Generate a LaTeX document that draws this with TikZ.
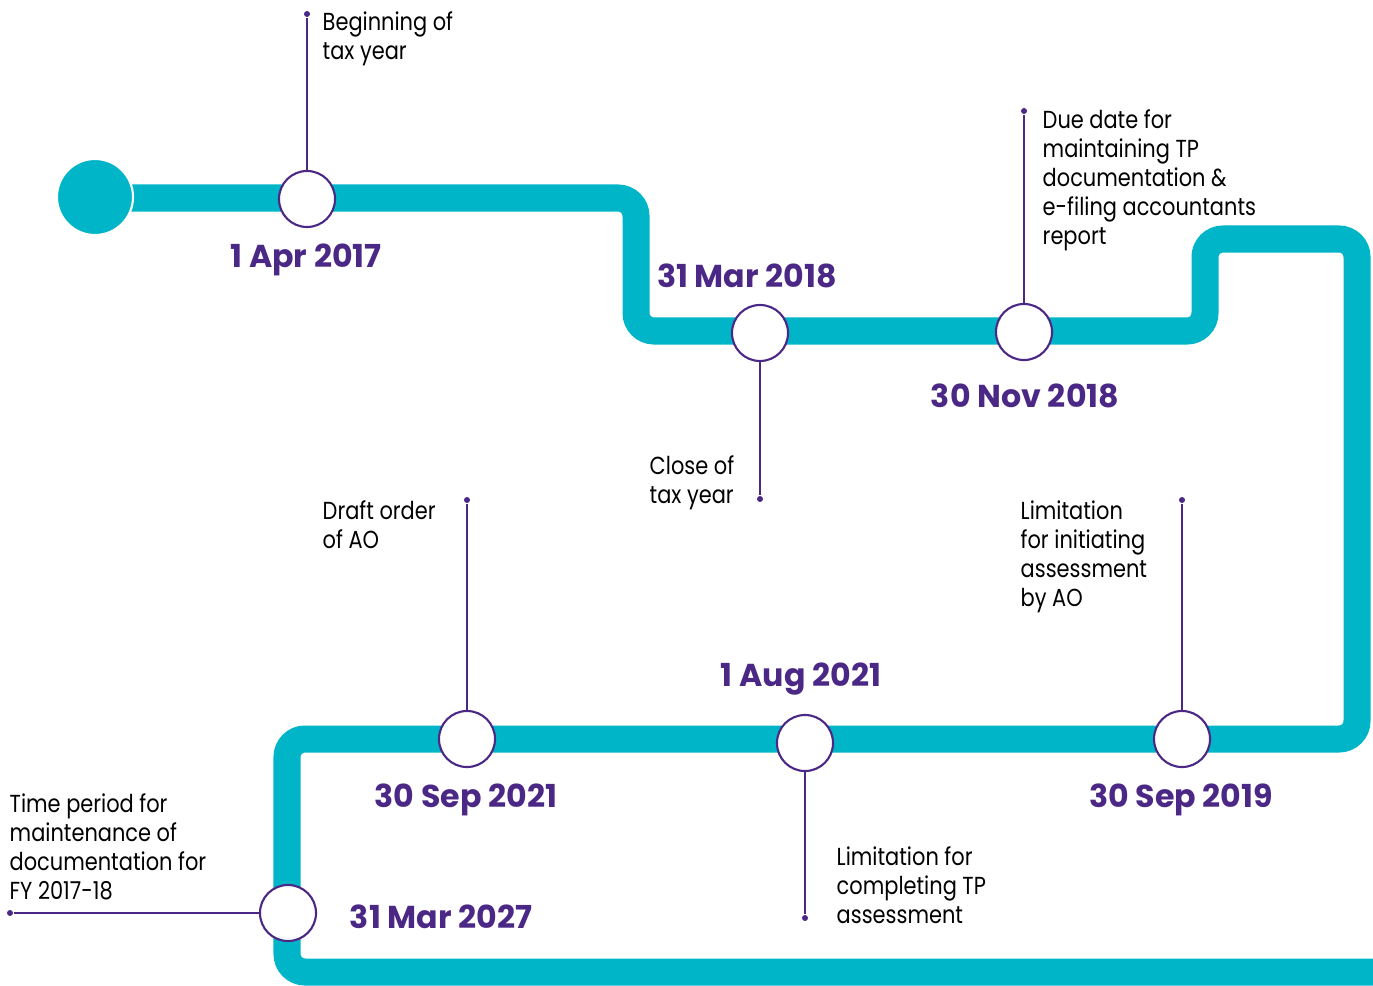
\documentclass[tikz,border=0pt]{standalone}
\usepackage{fontspec}
\setmainfont{Poppins}
\newfontfamily\notefont[FakeStretch=0.85]{Poppins}
\usetikzlibrary{positioning}
\definecolor{tealtrack}{HTML}{00B5C8}
\definecolor{tlpurple}{HTML}{4B2885}

\begin{document}
\begin{tikzpicture}[x=0.01cm,y=-0.01cm,
  milestone/.style={circle,draw=tlpurple,fill=white,line width=0.6pt,minimum size=0.56cm,inner sep=0pt},
  pindot/.style={circle,fill=tlpurple,minimum size=0.06cm,inner sep=0pt},
  lead/.style={tlpurple,line width=0.45pt},
  date/.style={text=tlpurple,font=\fontsize{9}{10}\selectfont\bfseries},
  note/.style={anchor=north west,align=left,inner sep=0pt,font=\notefont\fontsize{7}{8.25}\selectfont}]
\useasboundingbox (0,0) rectangle (1373,985);

% the track
\draw[tealtrack,line width=0.27cm,rounded corners=0.18cm]
    (95,198) -- (636,198) -- (636,331) -- (1205,331) -- (1205,239) -- (1357,239)
    -- (1357,739) -- (287,739) -- (287,972) -- (1373,972);
\node[circle,fill=tealtrack,draw=white,line width=0.6pt,minimum size=0.76cm,inner sep=0pt](start) at (95,197){};

% milestones
\draw (307,199) node[milestone](m1){}   (760,333) node[milestone](m2){}
      (1024,332) node[milestone](m3){}  (1182,739) node[milestone](m4){}
      (805,743) node[milestone](m5){}   (467,739) node[milestone](m6){}
      (288,913) node[milestone](m7){};
\draw (307,14) node[pindot](d1){}   (760,499) node[pindot](d2){}
      (1024,111) node[pindot](d3){} (1182,500) node[pindot](d4){}
      (805,918) node[pindot](d5){}  (467,500) node[pindot](d6){}
      (10,913) node[pindot](d7){};
\path[lead]
    (m1) edge (d1)
    (m2) edge (d2)
    (m3) edge (d3)
    (m4) edge (d4)
    (m5) edge (d5)
    (m6) edge (d6)
    (m7) edge (d7);

% dates
\node[date] (l1) at (306,260) {1 Apr 2017};
\node[date] (l2) at (747,276) {31 Mar 2018};
\node[date] (l3) at (1025,396) {30 Nov 2018};
\node[date] (l4) at (1181,800) {30 Sep 2019};
\node[date] (l5) at (801,679) {1 Aug 2021};
\node[date] (l6) at (466,800) {30 Sep 2021};
\node[date] (l7) at (441,917) {31 Mar 2027};

% notes
\node[note] (n1) at (322,11) {Beginning of\\tax year};
\node[note] (n2) at (649,455) {Close of\\tax year};
\node[note] (n3) at (1042,109) {Due date for\\maintaining TP\\documentation \&\\e-filing accountants\\report};
\node[note] (n4) at (1020,500) {Limitation\\for initiating\\assessment\\by AO};
\node[note] (n5) at (322,500) {Draft order\\of AO};
\node[note] (n6) at (836,846) {Limitation for\\completing TP\\assessment};
\node[note] (n7) at (9,793) {Time period for\\maintenance of\\documentation for\\FY 2017-18};
\end{tikzpicture}
\end{document}
